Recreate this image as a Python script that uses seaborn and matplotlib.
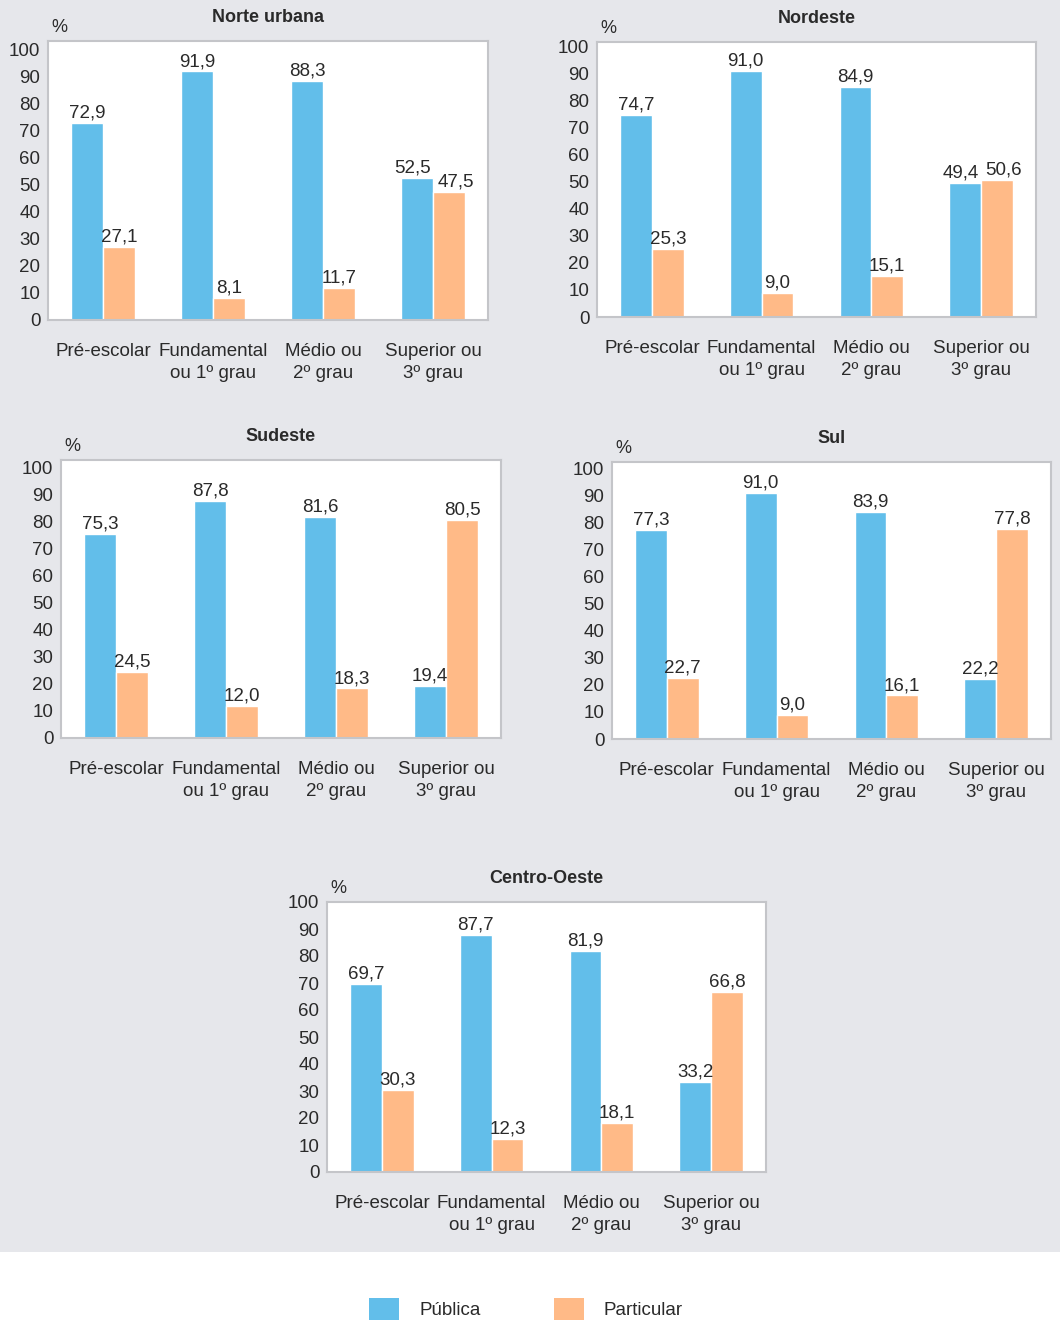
import matplotlib
matplotlib.use("Agg")
import matplotlib.pyplot as plt
from matplotlib.patches import Patch, Rectangle
import pandas as pd
import seaborn as sns

# Data: share of students by school network, per region (%)
levels = ["Pré-escolar", "Fundamental\nou 1º grau", "Médio ou\n2º grau", "Superior ou\n3º grau"]
networks = ["Pública", "Particular"]

norte_publica = [72.9, 91.9, 88.3, 52.5]
norte_particular = [27.1, 8.1, 11.7, 47.5]
nordeste_publica = [74.7, 91.0, 84.9, 49.4]
nordeste_particular = [25.3, 9.0, 15.1, 50.6]
sudeste_publica = [75.3, 87.8, 81.6, 19.4]
sudeste_particular = [24.5, 12.0, 18.3, 80.5]
sul_publica = [77.3, 91.0, 83.9, 22.2]
sul_particular = [22.7, 9.0, 16.1, 77.8]
centro_publica = [69.7, 87.7, 81.9, 33.2]
centro_particular = [30.3, 12.3, 18.1, 66.8]

regions = ["Norte urbana", "Nordeste", "Sudeste", "Sul", "Centro-Oeste"]
region_values = {
    "Norte urbana": (norte_publica, norte_particular),
    "Nordeste": (nordeste_publica, nordeste_particular),
    "Sudeste": (sudeste_publica, sudeste_particular),
    "Sul": (sul_publica, sul_particular),
    "Centro-Oeste": (centro_publica, centro_particular),
}
y_ticks = list(range(0, 101, 10))

BLUE = "#62BEEA"
ORANGE = "#FFBA87"
PANEL_BG = "#E6E7EB"
FRAME = "#C4C5C9"
TEXT = "#2A2A2A"

sns.set_theme(style="white")
plt.rcParams["font.family"] = ["Liberation Sans", "DejaVu Sans"]

W, H = 1060, 1323
fig = plt.figure(figsize=(W / 100, H / 100), dpi=100, facecolor="white")

# grey band behind the five panels
fig.add_artist(Rectangle((0, (H - 1252) / H), 1, 1252 / H,
                         transform=fig.transFigure, facecolor=PANEL_BG,
                         edgecolor="none", zorder=0))

# axes boxes in pixels: left, top, right, bottom
boxes = {
    "Norte urbana": (48, 41, 488, 320),
    "Nordeste": (597, 42, 1036, 317),
    "Sudeste": (61, 460, 501, 738),
    "Sul": (612, 462, 1051, 739),
    "Centro-Oeste": (327, 902, 766, 1172),
}
PX_PER_UNIT = 2.705

for region in regions:
    l, t, r, b = boxes[region]
    ax = fig.add_axes([l / W, (H - b) / H, (r - l) / W, (b - t) / H])
    pub, par = region_values[region]
    df = pd.DataFrame({
        "nivel": levels * 2,
        "rede": [networks[0]] * 4 + [networks[1]] * 4,
        "valor": pub + par,
    })
    sns.barplot(data=df, x="nivel", y="valor", hue="rede", order=levels,
                hue_order=networks, palette=[BLUE, ORANGE], width=0.58,
                gap=0, saturation=1, legend=False, ax=ax, zorder=2)
    label_sets = []
    for cont in ax.containers:
        vals = cont.datavalues
        anns = ax.bar_label(cont, labels=[f"{v:.1f}".replace(".", ",") for v in vals],
                            padding=1, fontsize=13.5, color=TEXT)
        label_sets.append(anns)
    # spread apart value labels of neighbouring bars with similar heights
    for i in range(len(levels)):
        if abs(pub[i] - par[i]) < 6:
            blue_ann, orange_ann = label_sets[0][i], label_sets[1][i]
            bx, by = blue_ann.xyann
            ox, oy = orange_ann.xyann
            blue_ann.xyann = (bx - 3, by)
            orange_ann.xyann = (ox + 5, oy)
    ax.set_xlim(-0.5, 3.5)
    ax.set_ylim(0, (b - t) / PX_PER_UNIT)
    ax.set_yticks(y_ticks)
    ax.set_yticklabels([str(v) for v in y_ticks])
    ax.set_xlabel("")
    ax.set_ylabel("")
    ax.set_facecolor("white")
    for sp in ax.spines.values():
        sp.set_color(FRAME)
        sp.set_linewidth(1.5)
    ax.tick_params(axis="both", length=0, labelsize=13.5, labelcolor=TEXT)
    ax.tick_params(axis="y", pad=5.5)
    ax.tick_params(axis="x", pad=16.5)
    for lab in ax.get_xticklabels():
        lab.set_linespacing(1.38)
        lab.set_verticalalignment("top")
    ax.set_title(region, fontsize=13, fontweight="bold", color=TEXT, pad=14)
    ax.text(3 / (r - l), 1.0 + 5 / (b - t), "%", transform=ax.transAxes,
            fontsize=13, color=TEXT, ha="left", va="bottom")

handles = [Patch(facecolor=BLUE, edgecolor="none", label=networks[0]),
           Patch(facecolor=ORANGE, edgecolor="none", label=networks[1])]
fig.legend(handles=handles, loc="center", bbox_to_anchor=(526 / W, (H - 1309) / H),
           ncol=2, frameon=False, fontsize=13.5, handlelength=1.6, handleheight=1.5,
           handletextpad=1.07, columnspacing=3.9, labelcolor=TEXT)

fig.savefig("out.png", dpi=100, facecolor="white")
